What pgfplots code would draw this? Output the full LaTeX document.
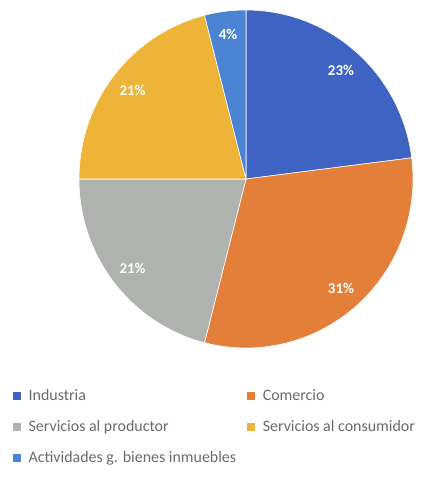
\documentclass[border=0pt]{standalone}
\usepackage{pgfplots}
\pgfplotsset{compat=1.18}
\usepackage{fontspec}
\setmainfont{Carlito}
\definecolor{cInd}{HTML}{3F63C2}
\definecolor{cCom}{HTML}{E47F3A}
\definecolor{cPro}{HTML}{AFB2AE}
\definecolor{cCon}{HTML}{EDB437}
\definecolor{cAct}{HTML}{4A84D2}
\definecolor{legtext}{HTML}{6A6A6A}

% slice from cumulative percent #1 to #2, clockwise from 12 o'clock
\newcommand{\slice}[3]{%
  \addplot[fill=#3, draw=white, line width=0.6pt, domain=#1:#2, samples=80, variable=\p,
    legend image code/.code={\fill[#3] (0bp,-3.5bp) rectangle (7bp,3.5bp);}]
    ({cos(90-3.6*\p)},{sin(90-3.6*\p)}) -- (axis cs:0,0) -- cycle;}
\newcommand{\plabel}[2]{%
  \node[text=white, font=\fontsize{15}{17}\selectfont\bfseries]
    at (axis cs:{0.86*cos(90-3.6*(#1))},{0.86*sin(90-3.6*(#1))}) {#2};}

\begin{document}
\begin{tikzpicture}
\begin{axis}[
  at={(246bp,301bp)}, anchor=center,
  scale only axis, width=334bp, height=338bp,
  xmin=-1, xmax=1, ymin=-1, ymax=1,
  hide axis, clip=false,
  legend columns=2,
  legend cell align=left,
  legend style={draw=none, fill=none, at={(-0.207,-0.109)}, anchor=north west,
    font=\fontsize{16}{18}\selectfont, text=legtext, row sep=14.5bp,
    /tikz/every odd column/.append style={column sep=6bp},
    /tikz/every even column/.append style={column sep=9bp}},
]
% values in percent: 23, 31, 21, 21, 4
\slice{0}{23}{cInd}    \addlegendentry{Industria}
\slice{23}{54}{cCom}   \addlegendentry{Comercio}
\slice{54}{75}{cPro}   \addlegendentry{Servicios al productor}
\slice{75}{96}{cCon}   \addlegendentry{Servicios al consumidor}
\slice{96}{100}{cAct}  \addlegendentry{Actividades g. bienes inmuebles}
\plabel{11.5}{23\%}
\plabel{38.5}{31\%}
\plabel{64.5}{21\%}
\plabel{85.5}{21\%}
\plabel{98}{4\%}
\end{axis}
\pgfresetboundingbox
\useasboundingbox (0,0) rectangle (440bp,480bp);
\end{tikzpicture}
\end{document}
